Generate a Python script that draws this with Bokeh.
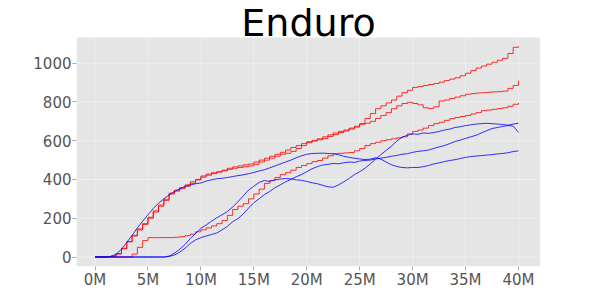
from bokeh.plotting import figure
from bokeh.models import Range1d, FixedTicker
from bokeh.core.properties import value
from bokeh.embed import file_html
from bokeh.resources import INLINE

# training steps in millions (sampling grid, 0.5M apart)
STEPS_M = [i * 0.5 for i in range(81)]

X_TICKS = [0, 5, 10, 15, 20, 25, 30, 35, 40]
X_TICK_LABELS = ["0M", "5M", "10M", "15M", "20M", "25M", "30M", "35M", "40M"]
Y_TICKS = [0, 200, 400, 600, 800, 1000]

# plotting-area limits (data units)
X_LO, X_HI = -1.75, 42.08
Y_LO, Y_HI = -49, 1132.6
Y_TOP = 1323.5      # headroom above the plotting area for the title
TITLE_Y = 1207.0    # title anchor inside that headroom

# red runs (staircase)
RED_1 = [0, 0, 2, 5, 18, 45, 80, 112, 145, 172, 205, 238, 268, 298, 325, 345, 358, 372, 388, 400,
         418, 428, 435, 440, 448, 458, 465, 470, 476, 480, 490, 500, 510, 520, 530, 540, 552, 565, 575, 585,
         595, 602, 610, 620, 630, 640, 648, 655, 665, 675, 688, 715, 740, 765, 780, 795, 810, 830, 848, 860,
         875, 880, 885, 890, 895, 902, 910, 918, 925, 935, 948, 962, 975, 985, 995, 1005, 1015, 1025, 1050, 1082,
         1088]
RED_2 = [0, 0, 2, 4, 15, 42, 78, 108, 140, 168, 200, 232, 262, 292, 330, 340, 352, 365, 380, 398,
         412, 422, 430, 438, 445, 452, 458, 462, 466, 470, 478, 490, 500, 510, 520, 530, 535, 545, 560, 575,
         590, 598, 605, 612, 622, 632, 642, 650, 660, 670, 685, 690, 700, 715, 730, 745, 765, 780, 792, 798,
         792, 785, 770, 766, 775, 805, 810, 818, 825, 832, 840, 843, 846, 848, 850, 852, 853, 856, 870, 885,
         910]
RED_3 = [0, 0, 0, 0, 0, 0, 0, 15, 50, 85, 100, 100, 100, 100, 100, 102, 105, 110, 118, 130,
         140, 150, 160, 172, 188, 215, 245, 262, 275, 300, 325, 350, 380, 395, 410, 425, 435, 448, 462, 472,
         482, 492, 498, 510, 522, 533, 535, 537, 539, 548, 560, 575, 585, 592, 600, 605, 610, 615, 620, 635,
         648, 655, 665, 678, 688, 695, 705, 714, 720, 725, 730, 738, 745, 755, 758, 762, 766, 770, 778, 788,
         795]

# blue runs
BLUE_1 = [0, 0, 0, 0, 0, 0, 0, 0, 0, 0, 0, 0, 0, 0, 3, 10, 25, 45, 70, 88,
          100, 108, 116, 124, 140, 158, 182, 198, 222, 252, 280, 300, 322, 338, 358, 372, 388, 400, 414, 425,
          440, 455, 466, 475, 478, 483, 481, 486, 490, 488, 495, 498, 500, 506, 510, 514, 520, 524, 530, 533,
          540, 545, 548, 552, 560, 568, 575, 585, 596, 603, 612, 620, 628, 640, 652, 663, 668, 674, 678, 676,
          643]
BLUE_2 = [0, 0, 0, 0, 0, 0, 0, 0, 0, 0, 0, 0, 0, 0, 5, 20, 40, 65, 95, 122,
          148, 165, 185, 202, 218, 234, 258, 285, 315, 345, 365, 385, 395, 390, 398, 402, 405, 403, 398, 396,
          390, 383, 378, 370, 362, 360, 372, 388, 405, 425, 440, 458, 480, 505, 528, 550, 572, 598, 618, 628,
          635, 633, 640, 638, 642, 648, 655, 660, 668, 672, 678, 682, 686, 688, 690, 688, 686, 684, 680, 686,
          690]
BLUE_3 = [0, 0, 0, 3, 15, 40, 75, 112, 150, 185, 218, 250, 278, 300, 320, 338, 352, 364, 372, 378,
          382, 392, 398, 404, 406, 410, 415, 420, 424, 430, 436, 444, 450, 460, 470, 480, 490, 500, 512, 522,
          530, 534, 535, 536, 534, 533, 528, 520, 514, 510, 506, 503, 505, 512, 505, 490, 476, 467, 462, 460,
          462, 462, 466, 472, 480, 486, 492, 498, 502, 508, 514, 518, 521, 523, 526, 528, 532, 534, 538, 544,
          548]

FONT = "DejaVu Sans"
TEXT_GREY = "#555555"

p = figure(width=592, height=292, output_backend="svg", toolbar_location=None,
           x_range=Range1d(X_LO, X_HI), y_range=Range1d(Y_LO, Y_TOP),
           min_border_left=76, min_border_right=52, min_border_top=0, min_border_bottom=26)
p.background_fill_color = "white"
p.border_fill_color = "white"
p.outline_line_color = None
p.grid.visible = False

# grey plotting area
p.quad(left=[X_LO], right=[X_HI], bottom=[Y_LO], top=[Y_HI], fill_color="#E5E5E5", line_color=None)

# faint white grid lines restricted to the plotting area
p.segment(x0=X_TICKS, x1=X_TICKS, y0=[Y_LO] * len(X_TICKS), y1=[Y_HI] * len(X_TICKS),
          line_color="white", line_alpha=0.35, line_width=1)
p.segment(x0=[X_LO] * len(Y_TICKS), x1=[X_HI] * len(Y_TICKS), y0=Y_TICKS, y1=Y_TICKS,
          line_color="white", line_alpha=0.35, line_width=1)

for ys in (RED_1, RED_2, RED_3):
    p.step(STEPS_M, ys, mode="after", line_color="#FF0000", line_alpha=0.8, line_width=1)
for ys in (BLUE_1, BLUE_2, BLUE_3):
    p.line(STEPS_M, ys, line_color="#0000FF", line_alpha=0.8, line_width=1)

p.xaxis.ticker = FixedTicker(ticks=X_TICKS)
p.xaxis.major_label_overrides = {t: lab for t, lab in zip(X_TICKS, X_TICK_LABELS)}
p.yaxis.ticker = FixedTicker(ticks=Y_TICKS)

for ax in (p.xaxis, p.yaxis):
    ax.axis_line_color = None
    ax.major_tick_line_color = "#AAAAAA"
    ax.major_tick_in = 0
    ax.major_tick_out = 4
    ax.minor_tick_line_color = None
    ax.major_label_text_font = FONT
    ax.major_label_text_font_size = "15px"
    ax.major_label_text_color = TEXT_GREY
p.xaxis.major_label_standoff = 0
p.yaxis.major_label_standoff = 1

# title, sitting on top of the plotting area
p.text(x=[(X_LO + X_HI) / 2], y=[TITLE_Y], text=["Enduro"], text_align="center",
       text_baseline="alphabetic", text_font=value(FONT), text_font_size="38px", text_color="black")

open("out.html", "w").write(file_html(p, INLINE))
